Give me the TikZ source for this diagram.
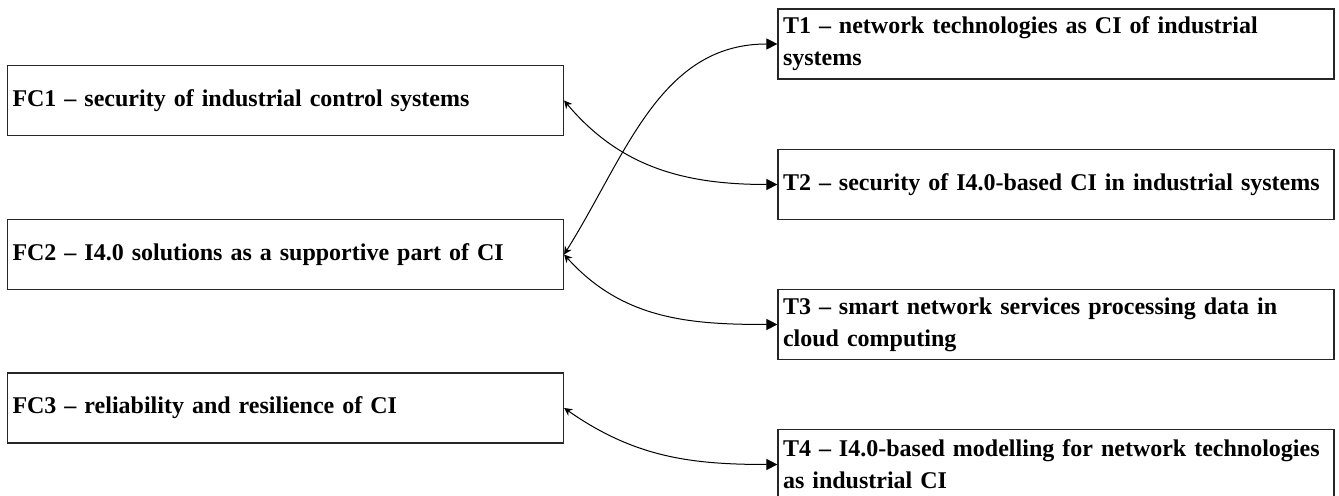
\documentclass[tikz,border=0pt]{standalone}
\usepackage{fontspec}
\setmainfont{Liberation Serif}
\usepackage{tikz}
\usetikzlibrary{positioning,arrows.meta,calc}
\hyphenpenalty=10000

\begin{document}
\begin{tikzpicture}[
  x=0.5pt, y=0.5pt,
  box/.style={draw=black!85, line width=0.6pt, rectangle, minimum height=35pt,
    text width=273pt, inner xsep=2.5pt, align=left,
    font=\bfseries\fontsize{12}{16}\selectfont},
  link/.style={line width=0.5pt, {Stealth[length=4pt,width=4pt]}-{Triangle[length=5.5pt,width=5.5pt]}}
]
  \useasboundingbox (0,0) rectangle (1339,496);

  % Focus areas
  \node[box] (fc1) at (285.5, 395.5) {FC1 \textendash{} security of industrial control systems};
  \node[box] (fc2) at (285.5, 241.5) {FC2 \textendash{} I4.0 solutions as a supportive part of CI};
  \node[box] (fc3) at (285.5, 88) {FC3 \textendash{} reliability and resilience of CI};

  % Topics
  \node[box] (t1) at (1056, 452) {T1 \textendash{} network technologies as CI of industrial\\systems};
  \node[box] (t2) at (1056, 311.5) {T2 \textendash{} security of I4.0-based CI in industrial systems};
  \node[box] (t3) at (1056, 171.5) {T3 \textendash{} smart network services processing data in\\cloud computing};
  \node[box] (t4) at (1056, 31.5) {T4 \textendash{} I4.0-based modelling for network technologies\\as industrial CI};

  % Links
  \draw[link] (fc1.east) to[out=-50, in=180] (t2.west);
  \draw[link] (fc2.east) to[out=58, in=180] (t1.west);
  \draw[link] (fc2.east) to[out=-48, in=180] (t3.west);
  \draw[link] (fc3.east) to[out=-35, in=180] (t4.west);
\end{tikzpicture}
\end{document}
